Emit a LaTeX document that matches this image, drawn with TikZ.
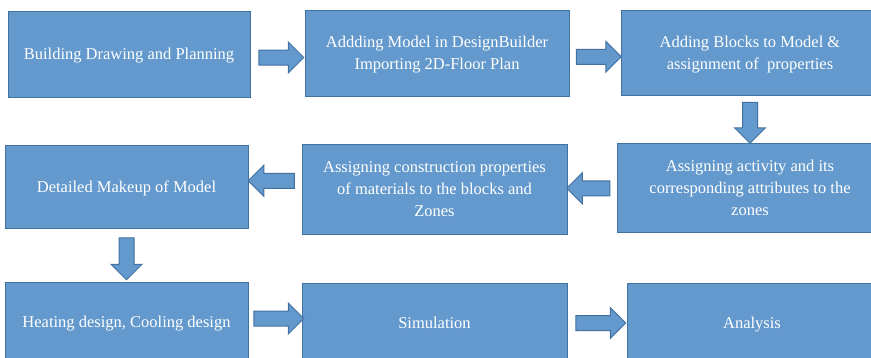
\documentclass[tikz,border=0pt]{standalone}
\usepackage{fontspec}
\setmainfont{Liberation Serif}
\usetikzlibrary{shapes.arrows,calc}
\definecolor{boxfill}{RGB}{99,153,204}
\definecolor{boxline}{RGB}{65,113,160}
\tikzset{
  blockarr/.style={single arrow, draw=boxline, fill=boxfill, line width=1pt,
    inner sep=7pt, single arrow head extend=8pt, single arrow tip angle=90}
}
\begin{document}
\begin{tikzpicture}[x=1pt,y=-1pt]
        \clip (0,0) rectangle (871,357);
        \begin{scope}[every node/.style={draw=boxline, line width=1pt, fill=boxfill, text=white,
            font=\fontsize{16.5}{22}\selectfont, align=center, inner sep=2pt, text depth=0pt}]
            \node[minimum width=242pt, minimum height=86pt] (build) at (129, 54) {Building Drawing and Planning};
            \node[minimum width=264pt, minimum height=86pt] (model) at (437, 53) {Addding Model in DesignBuilder\\Importing 2D-Floor Plan};
            \node[minimum width=258pt, minimum height=85pt] (blocks) at (750, 52.5) {Adding Blocks to Model \&\\assignment of\ \ properties};
            \node[minimum width=266pt, minimum height=89pt] (activity) at (750, 187.5) {Assigning activity and its\\corresponding attributes to the\\zones};
            \node[minimum width=265pt, minimum height=90pt] (constr) at (434.5, 189) {Assigning construction properties\\of materials to the blocks and\\Zones};
            \node[minimum width=243pt, minimum height=83pt] (makeup) at (126.5, 186.5) {Detailed Makeup of Model};
            \node[minimum width=243pt, minimum height=80pt] (heating) at (126.5, 322) {Heating design, Cooling design};
            \node[minimum width=265pt, minimum height=80pt] (simul) at (434.5, 323) {Simulation};
            \node[minimum width=250pt, minimum height=80pt] (analysis) at (752, 323) {Analysis};
        \end{scope}
        \begin{scope}[every node/.style={blockarr}]
            \node[minimum height=45pt, yshift=-4pt] (a1) at ($(build.east)!.5!(model.west)$) {};
            \node[minimum height=45pt, yshift=-4pt] (a2) at ($(model.east)!.5!(blocks.west)$) {};
            \node[minimum height=41pt, shape border rotate=270] (a3) at ($(blocks.south)!.5!(activity.north)$) {};
            \node[minimum height=43pt, shape border rotate=180] (a4) at ($(activity.west)!.5!(constr.east)$) {};
            \node[minimum height=46pt, shape border rotate=180, yshift=7pt] (a5) at ($(constr.west)!.5!(makeup.east)$) {};
            \node[minimum height=42pt, shape border rotate=270] (a6) at ($(makeup.south)!.5!(heating.north)$) {};
            \node[minimum height=50pt, yshift=4pt] (a7) at ($(heating.east)!.5!(simul.west)$) {};
            \node[minimum height=50pt] (a8) at ($(simul.east)!.5!(analysis.west)$) {};
        \end{scope}
\end{tikzpicture}
\end{document}
